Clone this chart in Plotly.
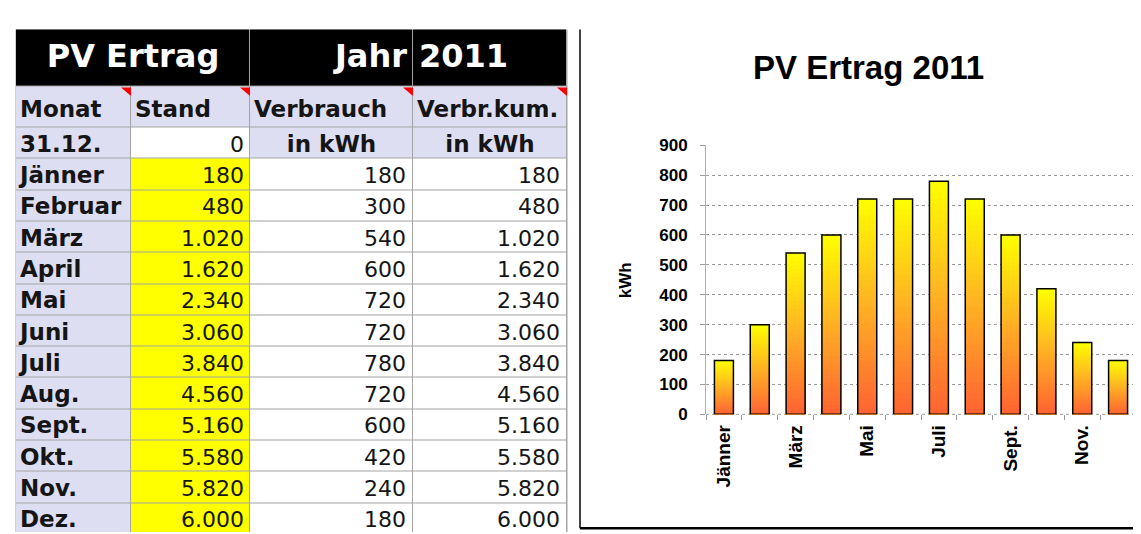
import plotly.graph_objects as go

# ---------------- data ----------------
months = ["Jänner", "Februar", "März", "April", "Mai", "Juni",
          "Juli", "Aug.", "Sept.", "Okt.", "Nov.", "Dez."]
start_label = "31.12."
start_stand = 0
stand = [180, 480, 1020, 1620, 2340, 3060, 3840, 4560, 5160, 5580, 5820, 6000]
verbrauch = [180, 300, 540, 600, 720, 720, 780, 720, 600, 420, 240, 180]
verbr_kum = [180, 480, 1020, 1620, 2340, 3060, 3840, 4560, 5160, 5580, 5820, 6000]
header_labels = ["Monat", "Stand", "Verbrauch", "Verbr.kum."]
unit_label = "in kWh"
title_cells = ["PV Ertrag", "Jahr", "2011"]
chart_title = "PV Ertrag 2011"
y_title = "kWh"
y_ticks = [0, 100, 200, 300, 400, 500, 600, 700, 800, 900]

# ---------------- layout constants (pixels) ----------------
W, H = 1141, 534
COL_EDGES = [8, 123, 242, 405, 559]
BAND_X_EDGES = [8, 242, 405, 559]
BAND_Y_EDGES = [13, 72]
ROW_H = 32.45
ROW_EDGES = [72, 114.5, 147] + [147 + ROW_H * (i + 1) for i in range(len(months))]


def px(x):
    return x / W


def py(y):
    return 1 - y / H


def fmt(v):
    return f"{v:,}".replace(",", ".")


def lerp(c1, c2, t):
    return tuple(int(round(a + (b - a) * t)) for a, b in zip(c1, c2))


TOP = (255, 255, 0)
MID = (255, 176, 36)
BOT = (255, 98, 50)


def grad(f):
    if f >= 0.5:
        c = lerp(MID, TOP, (f - 0.5) / 0.5)
    else:
        c = lerp(BOT, MID, f / 0.5)
    return "rgb(%d,%d,%d)" % c


LAV = "#DEDEF3"
YEL = "#FFFF00"
WHT = "#FFFFFF"
BLK = "#000000"
GRID = "#A4A4A4"
TFONT = "DejaVu Sans"
CFONT = "Liberation Sans, Arial, sans-serif"
# cell colour codes -> colours
CELL_SCALE = [[0, WHT], [0.125, WHT], [0.125, LAV], [0.375, LAV], [0.375, YEL],
              [0.625, YEL], [0.625, BLK], [0.875, BLK], [0.875, GRID], [1, GRID]]
C_WHT, C_LAV, C_YEL, C_BLK, C_GRID = 0, 1, 2, 3, 4

fig = go.Figure()

# ---------------- spreadsheet table (heatmap cells + text) ----------------
tbl = dict(xaxis="x2", yaxis="y2", showscale=False, zmin=0, zmax=4,
           colorscale=CELL_SCALE, hoverinfo="skip")
# grid-line underlay
fig.add_trace(go.Heatmap(x=[COL_EDGES[0] - 0.5, COL_EDGES[-1] + 0.5],
                         y=[BAND_Y_EDGES[0], ROW_EDGES[-1]], z=[[C_GRID]], **tbl))
# black title band (merged first two columns)
fig.add_trace(go.Heatmap(x=BAND_X_EDGES, y=BAND_Y_EDGES,
                         z=[[C_BLK] * (len(BAND_X_EDGES) - 1)], xgap=1, ygap=1, **tbl))
# header row, start row, monthly rows
z_rows = [[C_LAV] * 4, [C_LAV, C_WHT, C_LAV, C_LAV]] + [[C_LAV, C_YEL, C_WHT, C_WHT] for _ in months]
fig.add_trace(go.Heatmap(x=COL_EDGES, y=ROW_EDGES, z=z_rows, xgap=1, ygap=1, **tbl))


def add_text(xs, ys, texts, pos, size, bold, color="#151515"):
    fig.add_trace(go.Scatter(
        x=xs, y=ys, text=texts, mode="text", textposition=pos,
        textfont=dict(family=TFONT, size=size, color=color,
                      weight="bold" if bold else "normal"),
        xaxis="x2", yaxis="y2", hoverinfo="skip", showlegend=False, cliponaxis=False,
    ))


def text_y(top, size, base_off=25):
    return top + base_off - 0.25 * size


# title band
band_y = 52 - 0.25 * 32
add_text([125], [band_y], [title_cells[0]], "middle center", 32, True, "white")
add_text([399], [band_y], [title_cells[1]], "middle left", 32, True, "white")
add_text([411], [band_y], [title_cells[2]], "middle right", 32, True, "white")
# header labels
hdr_y = 103 - 0.25 * 23
add_text([c + 4 for c in COL_EDGES[:4]], [hdr_y] * 4, header_labels, "middle right", 23, True)
# first column (row labels)
row_tops = ROW_EDGES[1:-1]
labels = [start_label] + months
add_text([12] * len(labels), [text_y(t, 23) for t in row_tops], labels, "middle right", 23, True)
# Stand column
add_text([236] * len(labels), [text_y(t, 22) for t in row_tops],
         [fmt(start_stand)] + [fmt(v) for v in stand], "middle left", 22, False)
# unit row
add_text([(COL_EDGES[2] + COL_EDGES[3]) / 2, (COL_EDGES[3] + COL_EDGES[4]) / 2],
         [text_y(row_tops[0], 23)] * 2, [unit_label] * 2, "middle center", 23, True)
# Verbrauch and Verbr.kum.
add_text([398] * len(months), [text_y(t, 22) for t in row_tops[1:]],
         [fmt(v) for v in verbrauch], "middle left", 22, False)
add_text([552] * len(months), [text_y(t, 22) for t in row_tops[1:]],
         [fmt(v) for v in verbr_kum], "middle left", 22, False)

# ---------------- bar chart (vertical gradient via layered bars) ----------------
N = 40
for j in range(N):
    top_frac = (N - j) / N
    mid_frac = (N - j - 0.5) / N
    fig.add_trace(go.Bar(
        x=months,
        y=[v * top_frac for v in verbrauch],
        base=0,
        marker=dict(color=grad(mid_frac), line=dict(width=0)),
        showlegend=False,
        hoverinfo="skip",
    ))

fig.add_trace(go.Bar(
    x=months,
    y=verbrauch,
    base=0,
    marker=dict(color="rgba(0,0,0,0)", line=dict(color="black", width=1.5)),
    showlegend=False,
    name="PV Ertrag",
))

fig.update_layout(
    width=W, height=H,
    margin=dict(l=0, r=0, t=0, b=0),
    paper_bgcolor="white",
    plot_bgcolor="rgba(0,0,0,0)",
    barmode="overlay",
    bargap=0.47,
    showlegend=False,
    xaxis=dict(
        domain=[px(698), px(1128)],
        type="category",
        categoryorder="array",
        categoryarray=months,
        tickson="boundaries",
        ticks="outside",
        ticklen=5,
        tickcolor="#999999",
        ticklabelstep=2,
        tickangle=-90,
        ticklabelstandoff=6,
        tickfont=dict(family=CFONT, size=19, color="black", weight="bold"),
        showgrid=False,
        showline=False,
        zeroline=False,
    ),
    yaxis=dict(
        domain=[py(412), py(133)],
        range=[0, 900],
        tickvals=y_ticks,
        ticks="outside",
        ticklen=5,
        tickcolor="#999999",
        ticklabelstandoff=9,
        tickfont=dict(family=CFONT, size=17, color="black", weight="bold"),
        showgrid=True,
        gridcolor="#9A9A9A",
        griddash="dot",
        gridwidth=1,
        showline=True,
        linecolor="#B0B0B0",
        linewidth=1,
        zeroline=False,
    ),
    xaxis2=dict(domain=[0, 1], range=[0, W], visible=False, anchor="y2", fixedrange=True),
    yaxis2=dict(domain=[0, 1], range=[H, 0], visible=False, anchor="x2", fixedrange=True),
)

shapes = []
shapes.append(dict(type="line", xref="x domain", yref="y domain", x0=0, x1=1, y0=0, y1=0,
                   line=dict(color="#9A9A9A", width=1, dash="dot"), layer="below"))
shapes.append(dict(type="line", xref="x domain", yref="y domain", x0=1, x1=1, y0=0, y1=1,
                   line=dict(color="#9A9A9A", width=2, dash="dot"), layer="below"))
shapes.append(dict(type="line", xref="paper", yref="paper", x0=px(572), x1=px(572),
                   y0=py(13), y1=py(530), line=dict(color="black", width=1.5)))
shapes.append(dict(type="line", xref="paper", yref="paper", x0=px(572), x1=1,
                   y0=py(530), y1=py(530), line=dict(color="black", width=2.5)))
for xs in COL_EDGES[1:]:
    path = "M %f %f L %f %f L %f %f Z" % (px(xs - 10), py(73), px(xs), py(73), px(xs), py(82))
    shapes.append(dict(type="path", xref="paper", yref="paper", path=path,
                       fillcolor="#FF0000", line=dict(width=0)))
fig.update_layout(shapes=shapes)

fig.add_annotation(text="<b>%s</b>" % chart_title, xref="paper", yref="paper",
                   x=px(860), y=py(52), xanchor="center", yanchor="middle", showarrow=False,
                   font=dict(family=CFONT, size=33, color="black"))
fig.add_annotation(text="<b>%s</b>" % y_title, xref="paper", yref="paper",
                   x=px(617), y=py(273), xanchor="center", yanchor="middle",
                   showarrow=False, textangle=-90,
                   font=dict(family=CFONT, size=17, color="black"))

fig.write_html("out.html")
